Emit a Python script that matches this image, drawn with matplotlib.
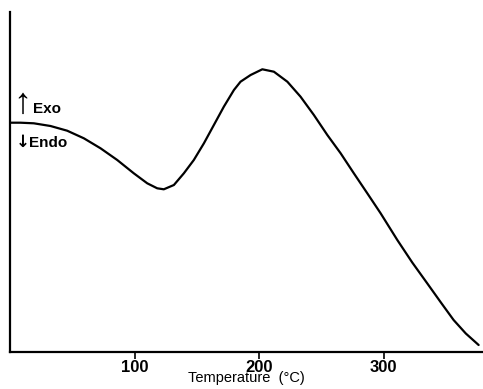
import matplotlib
matplotlib.use("Agg")
import matplotlib.pyplot as plt

plt.rcParams['font.family'] = ['Liberation Sans', 'DejaVu Sans']

# Temperature (°C) and DTA signal (arbitrary units, exo up)
temperature = [0, 8.4, 19.1, 32.5, 45.9, 59.3, 72.7, 86.1, 99.4, 110.2, 118.2,
               123.5, 131.6, 139.6, 147.6, 155.7, 163.7, 171.7, 179.8, 185.1,
               193.2, 202.6, 211.9, 222.7, 233.3, 244, 254.8, 265.5, 276.1,
               286.9, 297.6, 311, 323, 335, 346, 356.2, 366, 376.3]
signal = [229.3, 229.3, 228.7, 226, 221.3, 213.7, 203.7, 192, 178.7, 168.7, 163.7,
          162.7, 167, 178.7, 192, 208.7, 227, 245.3, 262, 270.3,
          277, 282.7, 280.3, 270.3, 255.3, 237, 217, 198.7, 178.7,
          158.7, 138.7, 112, 89.5, 68.7, 49.5, 32, 18.5, 7]
xticks = [100, 200, 300]
xlabel = "Temperature  (\u00b0C)"

W, H = 483, 389
fig = plt.figure(figsize=(W / 100, H / 100), dpi=100)
ax = fig.add_axes([10 / W, (H - 352) / H, (482 - 10) / W, (352 - 12) / H])
ax.plot(temperature, signal, color='black', lw=1.6, solid_capstyle='round',
        solid_joinstyle='round')
ax.set_xlim(0, 379)
ax.set_ylim(0, 340)
for s in ['top', 'right']:
    ax.spines[s].set_visible(False)
for s in ['left', 'bottom']:
    ax.spines[s].set_linewidth(1.6)
ax.set_yticks([])
ax.set_xticks(xticks)
ax.set_xticklabels([str(t) for t in xticks], fontsize=12, fontweight='bold')
ax.tick_params(axis='x', direction='out', length=5, width=1.2, pad=1)
ax.set_xlabel(xlabel, fontsize=10.5, labelpad=-3)


def ftext(px, py, s, **kw):
    fig.text(px / W, 1 - py / H, s, **kw)


ftext(22.5, 113, "\u2191", fontsize=26, va='baseline', ha='center')
ftext(33, 113, "Exo", fontsize=11, va='baseline', ha='left', fontweight='bold')
ftext(22.5, 147, "\u2193", fontsize=12, va='baseline', ha='center', fontweight='bold',
      family=['DejaVu Sans'])
ftext(29, 147, "Endo", fontsize=11, va='baseline', ha='left', fontweight='bold')

fig.savefig("out.png", dpi=100)
